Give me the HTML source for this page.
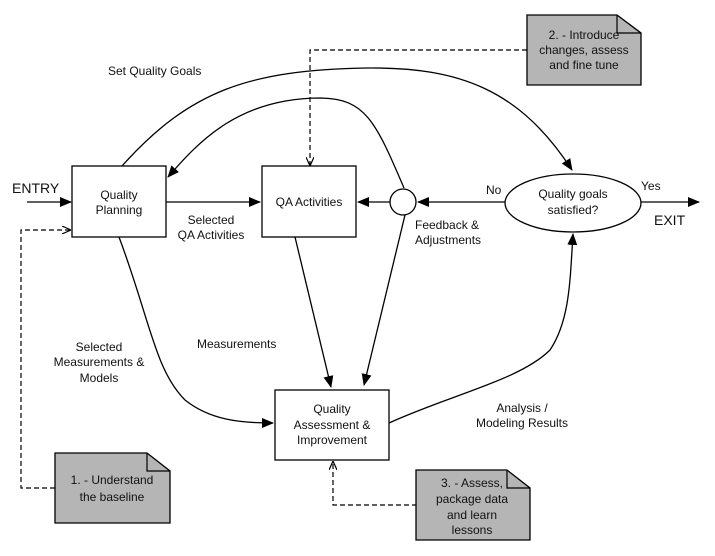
<!DOCTYPE html>
<html><head><style>
html,body{margin:0;padding:0;background:#fff;}
svg{display:block;}
text{font-family:"Liberation Sans",sans-serif;font-size:12px;fill:#111;}
</style></head><body>
<svg width="715" height="556" viewBox="0 0 715 556" xmlns="http://www.w3.org/2000/svg">
<defs>
<marker id="a" markerWidth="12" markerHeight="10" refX="11" refY="5" orient="auto" markerUnits="userSpaceOnUse"><path d="M0,0 L12,5 L0,10 Z" fill="#000"/></marker>
<marker id="d" markerWidth="9" markerHeight="8" refX="8" refY="4" orient="auto" markerUnits="userSpaceOnUse"><path d="M0,0 L9,4 L0,8" fill="none" stroke="#000" stroke-width="1.2"/></marker>
</defs>
<g fill="none" stroke="#000" stroke-width="1.3">
<rect x="72" y="166" width="94" height="71" fill="#fff"/>
<rect x="262" y="166" width="94" height="71" fill="#fff"/>
<rect x="275" y="390" width="114" height="70" fill="#fff"/>
<circle cx="403" cy="202" r="13" fill="#fff"/>
<ellipse cx="573" cy="203" rx="68" ry="29" fill="#fff"/>
<line x1="27" y1="202" x2="71" y2="202" marker-end="url(#a)"/>
<line x1="166" y1="202" x2="260" y2="202" marker-end="url(#a)"/>
<line x1="390" y1="202" x2="358" y2="202" marker-end="url(#a)"/>
<line x1="505" y1="202" x2="418" y2="202" marker-end="url(#a)"/>
<line x1="641" y1="202" x2="699" y2="202" marker-end="url(#a)"/>
<path d="M122,166 C190,90 250,70 367,68 C460,67 520,90 572,170" marker-end="url(#a)"/>
<path d="M404,188 C375,120 365,99 321,98 C240,98 200,140 168,177" marker-end="url(#a)"/>
<path d="M119,237 C150,320 155,370 185,400 C210,420 240,423 273,423" marker-end="url(#a)"/>
<path d="M295,237 L331,387" marker-end="url(#a)"/>
<path d="M405,215 L364,385" marker-end="url(#a)"/>
<path d="M389,423 C450,395 520,380 550,350 C570,320 570,280 573,234" marker-end="url(#a)"/>
</g>
<g fill="none" stroke="#000" stroke-width="1.2" stroke-dasharray="5,3">
<path d="M527,50 L310,50 L310,165" marker-end="url(#d)"/>
<path d="M55,488 L21,488 L21,230 L70,230" marker-end="url(#d)"/>
<path d="M417,505 L333,505 L333,462" marker-end="url(#d)"/>
</g>
<g stroke="#000" stroke-width="1.3" fill="#b5b5b5">
<path d="M527,15 L617,15 L641,33 L641,85 L527,85 Z"/>
<path d="M55,453 L147,453 L170,471 L170,523 L55,523 Z"/>
<path d="M416,470 L507,470 L530,488 L530,540 L416,540 Z"/>
</g>
<g fill="none" stroke="#000" stroke-width="1.2">
<path d="M617,15 L617,33 L641,33"/>
<path d="M147,453 L147,471 L170,471"/>
<path d="M507,470 L507,488 L530,488"/>
</g>
<text x="12" y="193" style="font-size:14px">ENTRY</text>
<text x="119" y="199" text-anchor="middle">Quality</text>
<text x="119" y="214" text-anchor="middle">Planning</text>
<text x="309" y="206" text-anchor="middle">QA Activities</text>
<text x="332" y="413" text-anchor="middle">Quality</text>
<text x="332" y="429" text-anchor="middle">Assessment &amp;</text>
<text x="332" y="444" text-anchor="middle">Improvement</text>
<text x="573" y="198" text-anchor="middle">Quality goals</text>
<text x="573" y="214" text-anchor="middle">satisfied?</text>
<text x="486" y="194">No</text>
<text x="641" y="190">Yes</text>
<text x="654" y="225" style="font-size:14px">EXIT</text>
<text x="108" y="75">Set Quality Goals</text>
<text x="211" y="224" text-anchor="middle">Selected</text>
<text x="211" y="239" text-anchor="middle">QA Activities</text>
<text x="415" y="229">Feedback &amp;</text>
<text x="415" y="244">Adjustments</text>
<text x="99" y="351" text-anchor="middle">Selected</text>
<text x="99" y="366" text-anchor="middle">Measurements &amp;</text>
<text x="99" y="382" text-anchor="middle">Models</text>
<text x="197" y="348">Measurements</text>
<text x="522" y="412" text-anchor="middle">Analysis /</text>
<text x="522" y="427" text-anchor="middle">Modeling Results</text>
<text x="584" y="39" text-anchor="middle">2. - Introduce</text>
<text x="584" y="54" text-anchor="middle">changes, assess</text>
<text x="584" y="69" text-anchor="middle">and fine tune</text>
<text x="112" y="484" text-anchor="middle">1. - Understand</text>
<text x="112" y="501" text-anchor="middle">the baseline</text>
<text x="472" y="487" text-anchor="middle">3. - Assess,</text>
<text x="472" y="503" text-anchor="middle">package data</text>
<text x="472" y="519" text-anchor="middle">and learn</text>
<text x="472" y="534" text-anchor="middle">lessons</text>
</svg>
</body></html>
